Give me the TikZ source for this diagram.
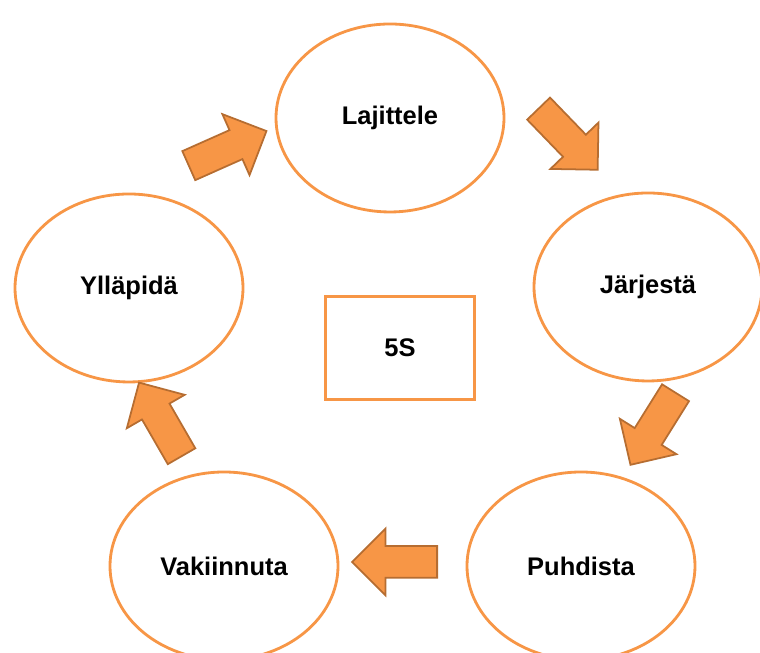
\documentclass[tikz,border=0pt]{standalone}
\usepackage{fontspec}
\setmainfont{Liberation Sans}
\usetikzlibrary{shapes.geometric,shapes.arrows}
\definecolor{sorange}{HTML}{F79646}
\definecolor{sbrown}{HTML}{B66D31}

\begin{document}
\begin{tikzpicture}[font=\fontsize{14.5}{17}\selectfont\bfseries]
		\tikzstyle{phase}=[ellipse, draw=sorange, fill=white, line width=1.6pt, minimum width=4.56cm, minimum height=3.76cm, inner sep=0pt]
		\tikzstyle{center}=[rectangle, draw=sorange, fill=white, line width=1.6pt, minimum width=2.98cm, minimum height=2.06cm]
		\tikzstyle{flow}=[single arrow, draw=sbrown, fill=sorange, line width=1pt, minimum height=1.7cm, inner xsep=0pt, inner ysep=0.3cm, single arrow head extend=0.35cm, anchor=tail]
		
		\useasboundingbox (0,0) rectangle (15.2,13.06);
		
		% Vaiheet kehällä
		\node[phase] (laj) at (7.8,10.7) {Lajittele};
		\node[phase] (jar) at (12.96,7.32) {Järjestä};
		\node[phase] (puh) at (11.62,1.74) {Puhdista};
		\node[phase] (vak) at (4.48,1.74) {Vakiinnuta};
		\node[phase] (yll) at (2.58,7.3) {Ylläpidä};
		
		% Keskellä
		\node[center] (s5) at (8.0,6.1) {5S};
		
		% Nuolet vaiheiden välissä
		\node[flow, rotate=24] (a1) at (3.76,9.74) {};
		\node[flow, rotate=-46] (a2) at (10.76,10.9) {};
		\node[flow, rotate=-122] (a3) at (13.52,5.22) {};
		\node[flow, rotate=180] (a4) at (8.76,1.82) {};
		\node[flow, rotate=120] (a5) at (3.64,3.92) {};
		
	\end{tikzpicture}
\end{document}
